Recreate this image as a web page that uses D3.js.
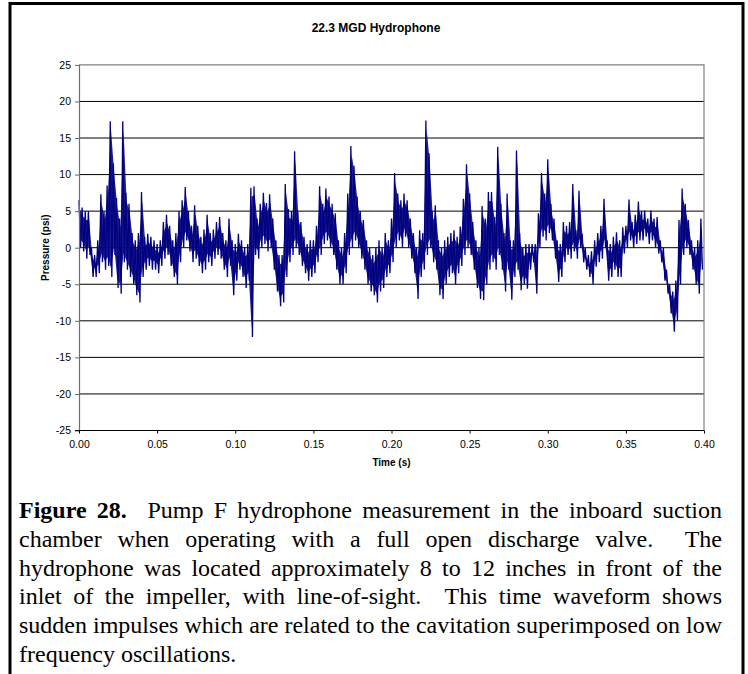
<!DOCTYPE html>
<html><head><meta charset="utf-8">
<script src="https://cdn.jsdelivr.net/npm/d3@7"></script>
<style>body{margin:0;background:#fff} svg{display:block}</style>
</head><body><svg id="c" width="748" height="674"></svg>
<script>
const title = "22.3 MGD Hydrophone";
const xLabel = "Time (s)";
const yLabel = "Pressure (psi)";
const xTicks = [0, 0.05, 0.10, 0.15, 0.20, 0.25, 0.30, 0.35, 0.40];
const yTicks = [-25, -20, -15, -10, -5, 0, 5, 10, 15, 20, 25];
const sampleStep = 0.002; // seconds per column (high then low sample)
const highs = [
6.5,5.5,5,5,0,-1,1,7.3,5,8.5,
17.3,11.5,6.8,4,17.3,7.5,6,2,1,2,
7.6,1.5,1.9,1.5,1,0.5,1,3.5,4.5,3,
1,2,5,6.5,8.3,5,3,5.8,3,1.5,
2.5,4.5,2,2.5,3.5,4.2,2,1,4,1,
0.5,1.9,1,0,0.5,8.2,8.4,4,6,7.5,
6.1,7.3,4,1,-1,-1,8.7,5.3,5,13.2,
5,3.5,1.5,0.5,1,1,3,8.4,6,8.1,
7,6,4.7,1,0,2,7.4,13.9,11.2,7,
5,3.8,1,0,-1,0,1,0,2,1,
4,10.2,7.4,6.5,7.4,6.5,4,2,0,2.4,
2,17.4,12.9,5,5.8,1,0,1,1.5,2,
2.4,1.5,2.9,6.7,11.4,7.4,3.5,1,0,5.7,
4,7.6,7.6,4.2,13.8,6,2,7.4,1,1,
13.3,2,0,0.5,0.5,0.5,0.5,4.7,10.2,7.4,
12.1,6,4,1,0.5,3.5,3,3.5,8.7,2.4,
7.8,1.9,0,-1,-0.5,1,2,3,6.7,1,
0.5,1.5,2.1,1,2.8,3,6.6,3.5,4.5,6.3,
5,5.1,4,5.1,4,4.2,1,0,-3,-5,
-6,-4.5,3.8,8.1,6,3.8,1,0,1,4
];
const lows = [
0,-0.5,-1.5,-1,-4,-4,-3.5,-2,-3,-2.5,
-4,-1,-5.5,-6.3,-2,-3,-4,-5,-6.5,-7.5,
-4,-3,-2.5,-3,-3,-3.5,-2.5,-1.5,-1,-2.5,
-4,-5,-2,0,1,-0.5,-2,-1.5,-2.5,-3.5,
-3,-2,-2.5,-1.5,-1,-1.5,-3,-4,-2.5,-6.5,
-4.5,-3,-4,-5.5,-4.5,-12.2,-1,-1.5,0,0.5,
-0.5,0,-3,-6,-8,-7.5,-4,-2,-1,0,
-1,-2.5,-3.5,-4.5,-4,-3.5,-2,-1,0.5,1,
0,-1,-3,-5,-5,-3.5,-1,0,1,0,
-1.5,-3,-5,-6,-6.5,-7.5,-6,-5.5,-4,-3.5,
-2,0,1,0,1.5,0,-1.5,-3.5,-7,-4,
-3,-1,0,-2,-3,-6.5,-7,-5,-4,-3.5,
-5,-3.5,-2.5,-1,0,-1,-3,-5.5,-7,-7.2,
-5,-3,-2,-3,-1,-3,-6,-3,-7.1,-4,
-3,-5.8,-5,-5.6,-3,-2,-6.3,0,1.5,1,
2,1,-1.5,-4.7,-4,-2,-1,-1.5,-0.5,-1.5,
0,-2,-3,-4,-5,-2.6,-2,-1.5,0,-4.5,
-4,-3,-4,-4,-0.8,0,1,0,0.5,1,
1,1.5,0.5,1,0,-0.8,-2,-4.5,-6.3,-9,
-11.5,-10,-5,-1,0,-1,-3,-5,-6.3,-3
];
const captionLines = [
  "Figure 28.  Pump F hydrophone measurement in the inboard suction",
  "chamber when operating with a full open discharge valve.  The",
  "hydrophone was located approximately 8 to 12 inches in front of the",
  "inlet of the impeller, with line-of-sight.  This time waveform shows",
  "sudden impulses which are related to the cavitation superimposed on low",
  "frequency oscillations."
];
const captionBoldWords = 2;

const svg = d3.select("#c");
const sans = "'Liberation Sans', Arial, Helvetica, sans-serif";
const serif = "'Liberation Serif', 'Times New Roman', Times, serif";

// outer frame
svg.append("path")
  .attr("d", "M10,674V3.5H743V674")
  .attr("fill", "none").attr("stroke", "#000").attr("stroke-width", 3);

const x = d3.scaleLinear().domain([0, 0.4]).range([79, 704]);
const y = d3.scaleLinear().domain([-25, 25]).range([430.5, 64.9]);

// gridlines
svg.append("g").selectAll("line")
  .data(yTicks.filter(v => v > -25 && v < 25))
  .join("line")
  .attr("x1", x(0)).attr("x2", x(0.4))
  .attr("y1", d => y(d)).attr("y2", d => y(d))
  .attr("stroke", "#000").attr("stroke-width", 1);

// plot border (top, right) gray
svg.append("path")
  .attr("d", `M${x(0)},${y(25)}H${x(0.4)}V${y(-25)}`)
  .attr("fill", "none").attr("stroke", "#808080").attr("stroke-width", 1.2);

// data: dense waveform drawn as its min/max envelope plus the sample trace
const cols = highs.map((h, i) => ({ t: i * sampleStep + sampleStep / 4, hi: h, lo: lows[i] }));
svg.append("path")
  .datum(cols)
  .attr("fill", "#000080")
  .attr("fill-opacity", 0.88)
  .attr("d", d3.area().x(d => x(d.t)).y0(d => y(Math.min(d.lo + 1.2, (d.lo + d.hi) / 2))).y1(d => y(Math.max(d.hi - 1.2, (d.lo + d.hi) / 2))));
const pts = [];
highs.forEach((h, i) => {
  pts.push([i * sampleStep, h]);
  pts.push([i * sampleStep + sampleStep / 2, lows[i]]);
});
svg.append("path")
  .datum(pts)
  .attr("fill", "none")
  .attr("stroke", "#000080")
  .attr("stroke-width", 1.3)
  .attr("stroke-linejoin", "miter")
  .attr("d", d3.line().x(d => x(d[0])).y(d => y(d[1])));

// y axis
const ya = svg.append("g").attr("transform", "translate(79,0)")
  .call(d3.axisLeft(y).tickValues(yTicks).tickSize(4).tickPadding(4).tickFormat(d => String(d)));
ya.select(".domain").remove();
ya.selectAll(".tick line").attr("stroke", "#666");
ya.selectAll("text").attr("font-family", sans).attr("font-size", "10.5px").attr("fill", "#000");
svg.append("line").attr("x1", 79.5).attr("x2", 79.5).attr("y1", y(25)).attr("y2", y(-25))
  .attr("stroke", "#6e6e6e").attr("stroke-width", 1.2);

// x axis
const xa = svg.append("g").attr("transform", `translate(0,${y(-25)})`)
  .call(d3.axisBottom(x).tickValues(xTicks).tickSize(3).tickPadding(7).tickFormat(d3.format(".2f")));
xa.select(".domain").remove();
xa.selectAll(".tick line").attr("stroke", "#000");
xa.selectAll("text").attr("font-family", sans).attr("font-size", "10.5px").attr("fill", "#000");
svg.append("line").attr("x1", 75).attr("x2", x(0.4)).attr("y1", y(-25)).attr("y2", y(-25))
  .attr("stroke", "#000").attr("stroke-width", 1);

// titles
svg.append("text").attr("x", 376).attr("y", 31.5).attr("text-anchor", "middle")
  .attr("font-family", sans).attr("font-size", "12px").attr("font-weight", "bold").text(title);
svg.append("text").attr("x", (x(0) + x(0.4)) / 2).attr("y", 466).attr("text-anchor", "middle")
  .attr("font-family", sans).attr("font-size", "10px").attr("font-weight", "bold").text(xLabel);
svg.append("text").attr("transform", `translate(49,${(y(25) + y(-25)) / 2}) rotate(-90)`)
  .attr("text-anchor", "middle")
  .attr("font-family", sans).attr("font-size", "10px").attr("font-weight", "bold").text(yLabel);

// caption (justified)
const capLeft = 19, capRight = 722, capTop = 518, capPitch = 28.8, capSize = 24;
const cap = svg.append("g").attr("font-family", serif).attr("font-size", capSize + "px").attr("fill", "#000");
const meas = cap.append("text").attr("x", -1000).attr("y", -1000);
function widthOf(s, bold) {
  meas.attr("font-weight", bold ? "bold" : "normal").text(s);
  return meas.node().getComputedTextLength();
}
const spaceW = widthOf("a a", false) - widthOf("aa", false);
let wordIndex = 0;
captionLines.forEach((line, li) => {
  const tokens = line.split(" ");
  const words = [], gaps = [];
  let pending = 0;
  tokens.forEach(tk => {
    if (tk === "") { pending++; return; }
    if (words.length) gaps.push(pending + 1);
    pending = 0;
    const bold = wordIndex < captionBoldWords;
    words.push({ t: tk, bold, w: widthOf(tk, bold) });
    wordIndex++;
  });
  const natural = d3.sum(words, d => d.w) + d3.sum(gaps) * spaceW;
  const last = li === captionLines.length - 1;
  const extra = last ? 0 : (capRight - capLeft - natural) / d3.sum(gaps);
  let cx = capLeft;
  const yb = capTop + li * capPitch;
  words.forEach((wd, i) => {
    cap.append("text").attr("x", cx).attr("y", yb)
      .attr("font-weight", wd.bold ? "bold" : "normal").text(wd.t);
    cx += wd.w;
    if (i < gaps.length) cx += gaps[i] * (spaceW + extra);
  });
});
meas.remove();
</script>
</body></html>
